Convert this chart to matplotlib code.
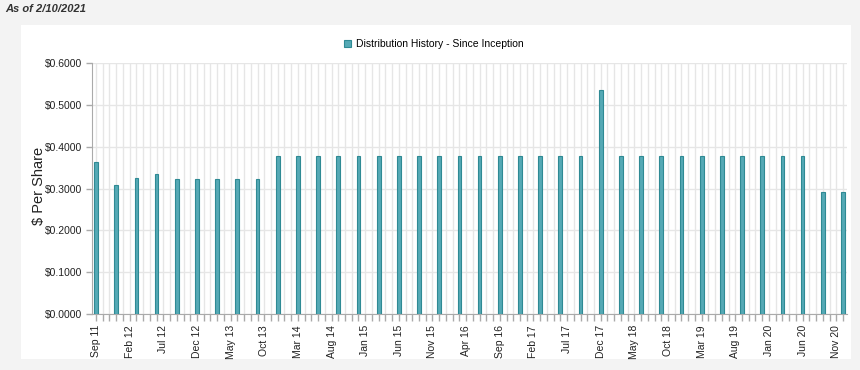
import matplotlib
matplotlib.use("Agg")
import matplotlib.pyplot as plt
import matplotlib.patches as mpatches
from matplotlib.ticker import FixedLocator, FuncFormatter, MultipleLocator

plt.rcParams['font.family'] = ['Liberation Sans', 'DejaVu Sans']

# ---- data ----
start_year, start_month = 2011, 9   # Sep 2011 = month 0
bar_months = list(range(0, 112, 3))  # quarterly distributions Sep 11 .. Dec 20
values = [0.3625, 0.309, 0.325, 0.335, 0.3225, 0.3225, 0.3225, 0.3225, 0.3225] \
    + [0.3775] * 16 + [0.535] + [0.3775] * 10 + [0.291, 0.291]
tick_labels = ["Sep 11", "Feb 12", "Jul 12", "Dec 12", "May 13", "Oct 13", "Mar 14",
               "Aug 14", "Jan 15", "Jun 15", "Nov 15", "Apr 16", "Sep 16", "Feb 17",
               "Jul 17", "Dec 17", "May 18", "Oct 18", "Mar 19", "Aug 19", "Jan 20",
               "Jun 20", "Nov 20"]
tick_months = [5 * i for i in range(len(tick_labels))]
series_name = "Distribution History - Since Inception"
y_ticks = [0.0, 0.1, 0.2, 0.3, 0.4, 0.5, 0.6]

W, H = 860, 370
fig = plt.figure(figsize=(W / 100, H / 100), dpi=100)
fig.patch.set_facecolor('#f3f3f3')

# white panel (background axes)
bg = fig.add_axes([21 / W, 1 - 359 / H, (851 - 21) / W, (359 - 25) / H], zorder=0)
bg.set_facecolor('white')
bg.set_xticks([])
bg.set_yticks([])
for s in bg.spines.values():
    s.set_visible(False)

ax = fig.add_axes([92 / W, 1 - 314 / H, (847 - 92) / W, (314 - 63) / H], zorder=1)
ax.set_facecolor('white')

face = '#55a9b5'
edge = '#2f8a94'
ax.bar(bar_months, values, width=0.55, color=face, edgecolor=edge, linewidth=0.8,
       zorder=3)

ax.set_xlim(-0.6, 111.6)
ax.set_ylim(0, 0.6)

ax.xaxis.set_major_locator(FixedLocator(tick_months))
ax.set_xticklabels(tick_labels, rotation=90, fontsize=7.5, color='#222222')
ax.xaxis.set_minor_locator(MultipleLocator(1))
ax.yaxis.set_major_locator(FixedLocator(y_ticks))
ax.yaxis.set_major_formatter(FuncFormatter(lambda v, p: f"${v:.4f}"))
ax.tick_params(axis='y', labelsize=7.5, labelcolor='#222222', color='#aaaaaa',
               length=4, width=1, pad=3)
ax.tick_params(axis='x', which='both', color='#aaaaaa', length=5, width=1,
               pad=3)

ax.grid(True, axis='x', which='both', color='#e6e6e6', linewidth=1, zorder=0)
ax.grid(True, axis='y', which='major', color='#e6e6e6', linewidth=1, zorder=0)
ax.set_axisbelow(True)

for s in ['top', 'right']:
    ax.spines[s].set_visible(False)
ax.spines['left'].set_color('#aaaaaa')
ax.spines['bottom'].set_color('#aaaaaa')

fig.text(39 / W, 1 - 186 / H, "$ Per Share", rotation=90, ha='center',
         va='center', fontsize=10.5, color='#222222', zorder=5)
fig.text(5 / W, 1 - 9 / H, "As of 2/10/2021", ha='left', va='center',
         fontsize=8, fontweight='bold', fontstyle='italic', color='#333333')

handle = mpatches.Patch(facecolor=face, edgecolor=edge, linewidth=0.8)
leg = fig.legend([handle], [series_name], loc='center',
                 bbox_to_anchor=(434 / W, 1 - 44 / H), frameon=False, fontsize=7.5,
                 handlelength=0.7, handleheight=0.7, handletextpad=0.5)
leg.set_zorder(5)

fig.savefig("out.png", dpi=100, facecolor=fig.get_facecolor())
